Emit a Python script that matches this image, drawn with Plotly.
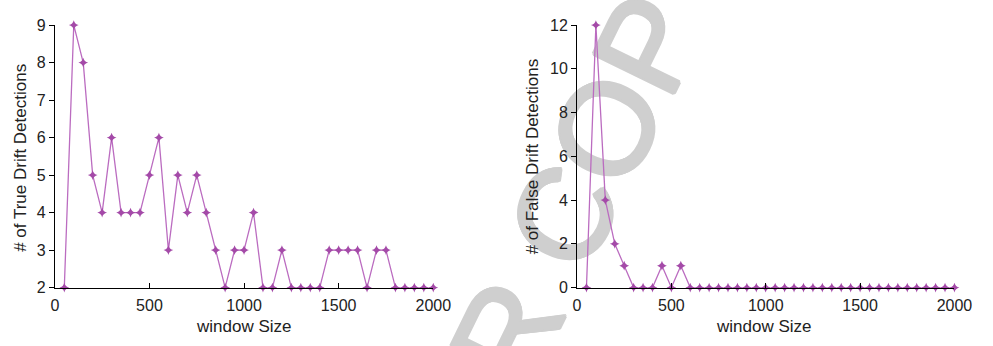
import plotly.graph_objects as go

# Window sizes evaluated (shared by both panels)
window_size = [50, 100, 150, 200, 250, 300, 350, 400, 450, 500,
               550, 600, 650, 700, 750, 800, 850, 900, 950, 1000,
               1050, 1100, 1150, 1200, 1250, 1300, 1350, 1400, 1450, 1500,
               1550, 1600, 1650, 1700, 1750, 1800, 1850, 1900, 1950, 2000]

true_detections = [2, 9, 8, 5, 4, 6, 4, 4, 4, 5,
                   6, 3, 5, 4, 5, 4, 3, 2, 3, 3,
                   4, 2, 2, 3, 2, 2, 2, 2, 3, 3,
                   3, 3, 2, 3, 3, 2, 2, 2, 2, 2]

false_detections = [0, 12, 4, 2, 1, 0, 0, 0, 1, 0,
                    1, 0, 0, 0, 0, 0, 0, 0, 0, 0,
                    0, 0, 0, 0, 0, 0, 0, 0, 0, 0,
                    0, 0, 0, 0, 0, 0, 0, 0, 0, 0]

x_ticks = [0, 500, 1000, 1500, 2000]
true_ticks = [2, 3, 4, 5, 6, 7, 8, 9]
false_ticks = [0, 2, 4, 6, 8, 10, 12]

W, H = 993, 346
LINE = "#bb6cc0"
MARK = "#a44aa8"
TEXT = "#222222"
FONT = "Liberation Sans, Arial, sans-serif"
WM = "#cfcfcf"


def px(x):
    return x / W


def py(y):
    return 1 - y / H


fig = go.Figure()

for data, xa, ya in [(true_detections, "x", "y"), (false_detections, "x2", "y2")]:
    fig.add_trace(go.Scatter(
        x=window_size, y=data, xaxis=xa, yaxis=ya,
        mode="lines+markers",
        line=dict(color=LINE, width=1.3),
        marker=dict(symbol="star-diamond", size=7, color=MARK, line=dict(width=0)),
        cliponaxis=False, showlegend=False,
    ))

axis_common = dict(showline=True, linecolor="black", linewidth=1, showgrid=False,
                   zeroline=False, ticklen=5, tickcolor="black", tickwidth=1,
                   tickfont=dict(family=FONT, size=16, color=TEXT))

fig.update_layout(
    width=W, height=H,
    margin=dict(l=0, r=0, t=0, b=0),
    paper_bgcolor="white", plot_bgcolor="rgba(0,0,0,0)",
    xaxis=dict(domain=[px(52), px(439)], range=[0, 2000], tickvals=x_ticks,
               ticks="inside", anchor="y", ticklabelstandoff=3, **axis_common),
    yaxis=dict(domain=[py(294), py(18)], range=[2, 9], tickvals=true_ticks,
               ticks="outside", anchor="x", **axis_common),
    xaxis2=dict(domain=[px(586), px(972)], range=[0, 2000], tickvals=x_ticks,
                ticks="inside", anchor="y2", ticklabelstandoff=3, **axis_common),
    yaxis2=dict(domain=[py(294), py(18)], range=[0, 12], tickvals=false_ticks,
                ticks="outside", anchor="x2", **axis_common),
)

# Watermark drawn as the label of an invisible shape in the layer below the data;
# a tight text-shadow ring thickens the strokes slightly
cx, cy = 492, 360
thick = ", ".join(f"{dx}px {dy}px 0 {WM}" for dx, dy in
                  [(2, 0), (-2, 0), (0, 2), (0, -2), (1, 1), (-1, -1), (1, -1), (-1, 1)])
fig.add_shape(
    type="rect", xref="paper", yref="paper", layer="below",
    x0=px(cx - 1), x1=px(cx + 1), y0=py(cy + 1), y1=py(cy - 1),
    line=dict(width=0), fillcolor="rgba(0,0,0,0)",
    label=dict(text="AUTHOR COPY", textangle=-64, textposition="middle center",
               font=dict(family=FONT, size=130, color=WM, shadow=thick)),
)

title_font = dict(family=FONT, size=17, color=TEXT)
annotations = [
    dict(text="window Size", x=px(245), y=py(335)),
    dict(text="window Size", x=px(777), y=py(335)),
    dict(text="# of True Drift Detections", x=px(17), y=py(158), textangle=-90),
    dict(text="# of False Drift Detections", x=px(540), y=py(156), textangle=-90),
]
for a in annotations:
    a.update(xref="paper", yref="paper", showarrow=False, xanchor="center",
             yanchor="middle", font=title_font)
fig.update_layout(annotations=annotations)

fig.write_html("out.html")
